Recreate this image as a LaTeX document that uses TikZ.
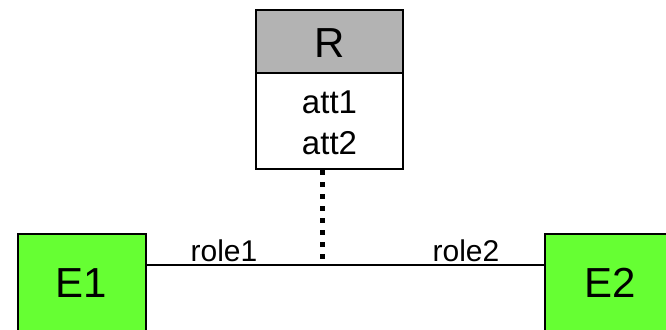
\documentclass[tikz,border=0pt]{standalone}
\usepackage{fontspec}
\setmainfont{Liberation Sans}
\definecolor{entgreen}{HTML}{66FF33}
\definecolor{hdrgray}{HTML}{B3B3B3}
\begin{document}
\begin{tikzpicture}[x=1pt,y=-1pt,
  boxline/.style={draw=black,line width=1.6pt},
  bigtxt/.style={inner sep=0pt,anchor=base,font=\fontsize{42}{48}\selectfont},
  atttxt/.style={inner sep=0pt,anchor=base,font=\fontsize{33}{40}\selectfont},
  roletxt/.style={inner sep=0pt,anchor=base,font=\fontsize{30}{34}\selectfont},
  linkline/.style={draw=black,line width=1.5pt},
  dotline/.style={draw=black,line width=5.5pt,dash pattern=on 5pt off 7pt}]
\useasboundingbox (0,0) rectangle (666,329);
\clip (0,0) rectangle (666,329);
% relationship box R
\coordinate (rtl) at (256,10);
\coordinate (rhr) at (403,73);
\coordinate (rbr) at (403,169);
\fill[hdrgray] (rtl) rectangle (rhr);
\fill[white] (256,73) rectangle (rbr);
\draw[boxline] (rtl) rectangle (rbr);
\draw[boxline] (256,73) -- (rhr);
\node[bigtxt] (R) at (330,57.7) {R};
\node[atttxt] (att1) at (329.5,113.5) {att1};
\node[atttxt] (att2) at (329.5,154) {att2};
% entities
\draw[boxline,fill=entgreen] (18,234) rectangle (146,345);
\draw[boxline,fill=entgreen] (545,234) rectangle (673,345);
\coordinate (e1r) at (146,265);
\coordinate (e2l) at (545,265);
\node[bigtxt] (E1) at (81,297.7) {E1};
\node[bigtxt] (E2) at (610,297.7) {E2};
% connector
\draw[linkline] (e1r) -- (e2l);
\coordinate (rb) at (322.5,170);
\coordinate (mid) at (322.5,263);
\draw[dotline] (rb) -- (mid);
\node[roletxt] (role1) at (224,261.7) {role1};
\node[roletxt] (role2) at (466,261.7) {role2};
\end{tikzpicture}
\end{document}
